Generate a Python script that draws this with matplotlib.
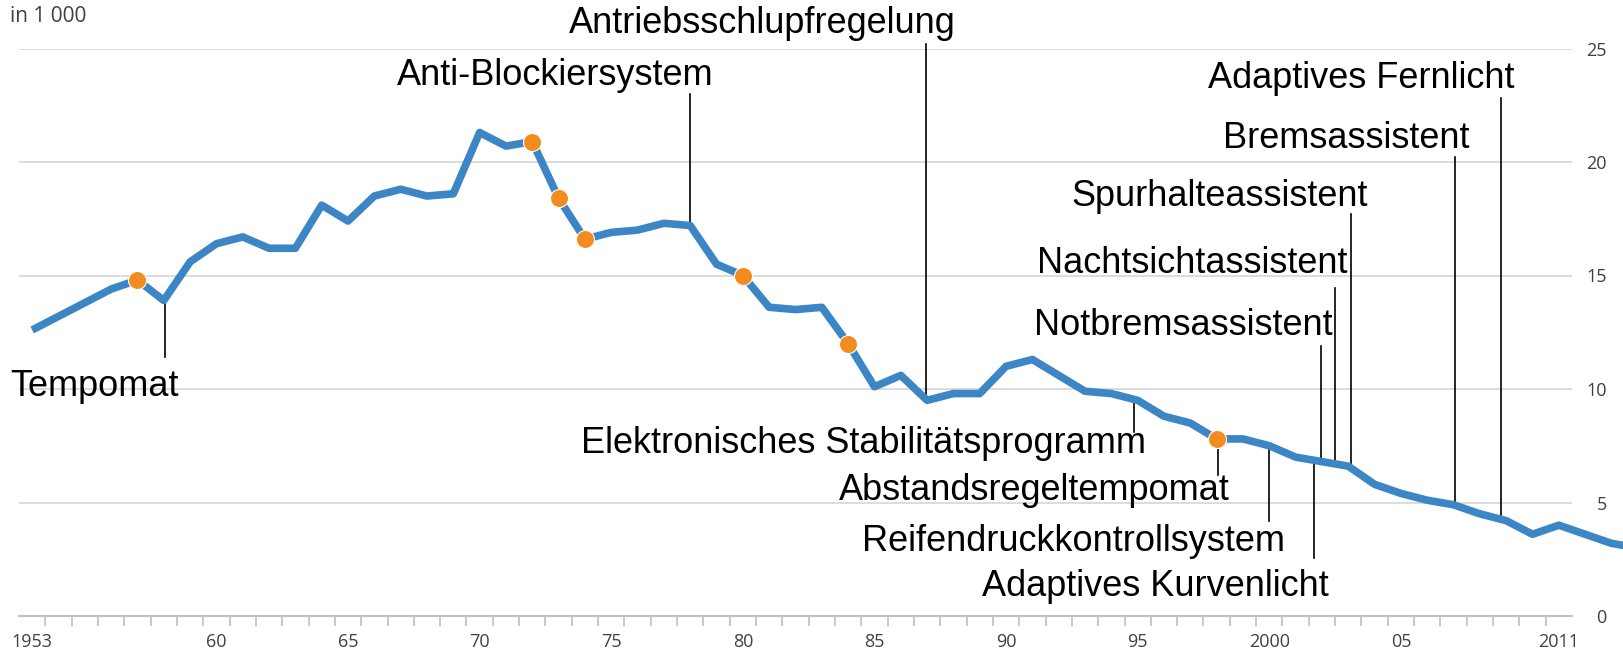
"""Verkehrstote in Deutschland 1953-2014 mit Einführung von Fahrerassistenzsystemen."""

import numpy as np
import matplotlib
matplotlib.use("Agg")
import matplotlib.pyplot as plt

# --- data -----------------------------------------------------------------
YEARS = list(range(1953, 2015))
DEATHS = [
    12.6, 13.2, 13.8, 14.4, 14.8, 13.9, 15.6, 16.4, 16.7, 16.2,   # 1953-62
    16.2, 18.1, 17.4, 18.5, 18.8, 18.5, 18.6, 21.3, 20.7, 20.9,   # 1963-72
    18.4, 16.6, 16.9, 17.0, 17.3, 17.2, 15.5, 15.0, 13.6, 13.5,   # 1973-82
    13.6, 12.0, 10.1, 10.6, 9.5, 9.8, 9.8, 11.0, 11.3, 10.6,      # 1983-92
    9.9, 9.8, 9.5, 8.8, 8.5, 7.8, 7.8, 7.5, 7.0, 6.8,             # 1993-2002
    6.6, 5.8, 5.4, 5.1, 4.9, 4.5, 4.2, 3.6, 4.0, 3.6,             # 2003-12
    3.2, 3.0,                                                     # 2013-14
]
HIGHLIGHT_YEARS = [1957, 1972, 1973, 1974, 1980, 1984, 1998]

XTICK_YEARS = [1953, 1960, 1965, 1970, 1975, 1980, 1985, 1990, 1995, 2000, 2005, 2011]
XTICK_LABELS = ["1953", "60", "65", "70", "75", "80", "85", "90", "95", "2000", "05", "2011"]
YTICKS = [0, 5, 10, 15, 20, 25]

SYSTEMS = [
    "Tempomat", "Anti-Blockiersystem", "Antriebsschlupfregelung",
    "Elektronisches Stabilitätsprogramm", "Abstandsregeltempomat",
    "Reifendruckkontrollsystem", "Adaptives Kurvenlicht", "Notbremsassistent",
    "Nachtsichtassistent", "Spurhalteassistent", "Bremsassistent",
    "Adaptives Fernlicht",
]
SYSTEM_YEARS = [1958.05, 1978.0, 1986.95, 1994.85, 1998.05, 2000.0,
                2001.7, 2001.95, 2002.5, 2003.1, 2007.05, 2008.8]

# --- label layout (leader end, text anchor) --------------------------------
LEADER_END = [11.4, 23.0, 25.2, 8.1, 6.2, 4.2, 2.55, 11.9, 14.45, 17.7, 20.2, 22.8]
TEXT_X = [1952.15, 1978.9, 1988.1, 1995.3, 1998.5, 2000.6,
          2002.25, 2002.42, 2002.97, 2003.75, 2007.6, 2009.3]
TEXT_Y = [10.1, 23.8, 26.1, 7.6, 5.55, 3.26, 1.28, 12.8, 15.55, 18.5, 21.05, 23.7]
TEXT_HA = ["left"] + ["right"] * 11

LINE_BLUE = "#3d86c6"
DOT_ORANGE = "#f28c1f"
GRID = "#d9d9d9"
AXIS_GREY = "#c0c0c0"
TICK_TEXT = "#404040"

W, H = 1623, 657
fig = plt.figure(figsize=(W / 100, H / 100), dpi=100)
ax = fig.add_axes([19 / W, 41 / H, (1572 - 19) / W, (616 - 48.5) / H])

years = np.array(YEARS, dtype=float)
deaths = np.array(DEATHS)

ax.set_xlim(1952.5, 2011.5)
ax.set_ylim(0, 25)

# grid + axes styling
for s in ("left", "right", "top"):
    ax.spines[s].set_visible(False)
ax.spines["bottom"].set_color(AXIS_GREY)
ax.spines["bottom"].set_linewidth(1.5)
ax.yaxis.tick_right()
ax.set_yticks(YTICKS)
ax.set_yticklabels([str(v) for v in YTICKS])
ax.tick_params(axis="y", length=0, pad=25, labelsize=13, labelcolor=TICK_TEXT)
for lab in ax.get_yticklabels():
    lab.set_horizontalalignment("right")
    lab.set_family("Open Sans")
ax.grid(axis="y", color=GRID, linewidth=1.3)
ax.set_axisbelow(True)

ax.set_xticks(XTICK_YEARS)
ax.set_xticklabels(XTICK_LABELS, family="Open Sans")
ax.tick_params(axis="x", length=0, pad=12, labelsize=13, labelcolor=TICK_TEXT)
ax.set_xticks(np.arange(1953.5, 2011.5, 1.0), minor=True)
ax.tick_params(axis="x", which="minor", length=7, width=1.2, color=AXIS_GREY)

# leader lines and labels
for name, yr, end, tx, ty, ha in zip(SYSTEMS, SYSTEM_YEARS, LEADER_END,
                                     TEXT_X, TEXT_Y, TEXT_HA):
    y0 = np.interp(yr, years, deaths)
    ax.plot([yr, yr], [y0, end], color="black", linewidth=1.2, zorder=2,
            clip_on=False)
    ax.text(tx, ty, name, ha=ha, va="center", fontsize=26,
            family="Liberation Sans", color="black", zorder=5, clip_on=False)

# series
ax.plot(years, deaths, color=LINE_BLUE, linewidth=5.5, solid_joinstyle="round",
        solid_capstyle="butt", zorder=3, clip_on=False)
hl = np.isin(years, HIGHLIGHT_YEARS)
ax.plot(years[hl], deaths[hl], linestyle="none", marker="o", markersize=13,
        markerfacecolor=DOT_ORANGE, markeredgecolor="white",
        markeredgewidth=0.8, zorder=4, clip_on=False)

fig.text(10 / W, 1 - 16 / H, "in 1 000", ha="left", va="center", fontsize=15,
         family="Open Sans", color=TICK_TEXT)

fig.savefig("out.png", dpi=100)
